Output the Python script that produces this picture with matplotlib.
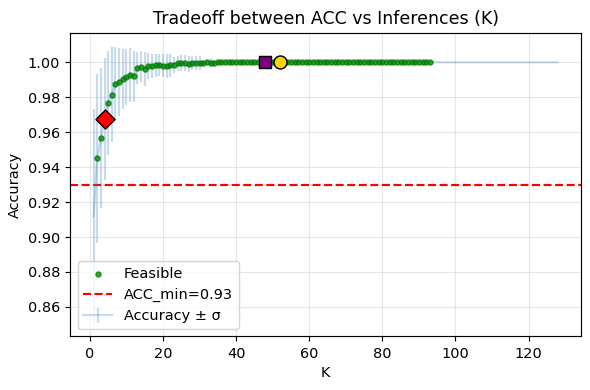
import matplotlib
matplotlib.use('Agg')
import matplotlib.pyplot as plt
import numpy as np

# accuracy per K (K = 1..128)
k_values = np.arange(1, 129)
acc_head = [0.912, 0.945, 0.9567, 0.9676, 0.9767, 0.9815, 0.9876, 0.9888, 0.9905, 0.9914,
            0.9928, 0.9920, 0.9968, 0.9975, 0.9962, 0.9978, 0.9980, 0.9982, 0.9986, 0.9980,
            0.9980, 0.9983, 0.9986, 0.9994, 0.9995, 0.9995, 0.9990, 0.9995, 0.9996, 0.9996,
            0.9998, 1.0, 0.9997, 0.9998, 1.0]
std_head = [0.061, 0.0485, 0.040, 0.035, 0.030, 0.027, 0.0214, 0.0195, 0.017, 0.016,
            0.0155, 0.0147, 0.0093, 0.009, 0.0095, 0.0075, 0.0068, 0.0066, 0.0062, 0.0066,
            0.0068, 0.0065, 0.0045, 0.0042, 0.0045, 0.0045, 0.0048, 0.0040, 0.0042, 0.0038,
            0.0015, 0.0, 0.0025, 0.0015, 0.0]
# from K=36 on every reading is 1.000 with no spread
acc = np.array(acc_head + [1.0] * (128 - len(acc_head)))
std = np.array(std_head + [0.0] * (128 - len(std_head)))

acc_min = 0.93
k_max_feasible = 93
knee_k = 4
square_k = 48
circle_k = 52

feasible = (acc >= acc_min) & (k_values <= k_max_feasible)

dpi = 104.6
fig, ax = plt.subplots(figsize=(590 / dpi, 390 / dpi), dpi=dpi)
ax.scatter(k_values[feasible], acc[feasible], s=12, color='green', alpha=0.75,
           label='Feasible', zorder=3)
ax.axhline(acc_min, color='red', linestyle='--', label=f'ACC_min={acc_min}')
ax.errorbar(k_values, acc, yerr=std, alpha=0.25, label='Accuracy ± σ')

ax.scatter([knee_k], [acc[knee_k - 1]], marker='D', s=85, color='red',
           edgecolors='black', zorder=5)
ax.scatter([square_k], [acc[square_k - 1]], marker='s', s=80, color='purple',
           edgecolors='black', zorder=5)
ax.scatter([circle_k], [acc[circle_k - 1]], marker='o', s=80, color='gold',
           edgecolors='black', zorder=5)

ax.set_title('Tradeoff between ACC vs Inferences (K)')
ax.set_xlabel('K')
ax.set_ylabel('Accuracy')
ax.grid(True, alpha=0.3)
ax.legend(loc='lower left')
fig.subplots_adjust(left=0.1192, right=0.9847, top=0.9159, bottom=0.1374)
fig.savefig('out.png', dpi=dpi)
